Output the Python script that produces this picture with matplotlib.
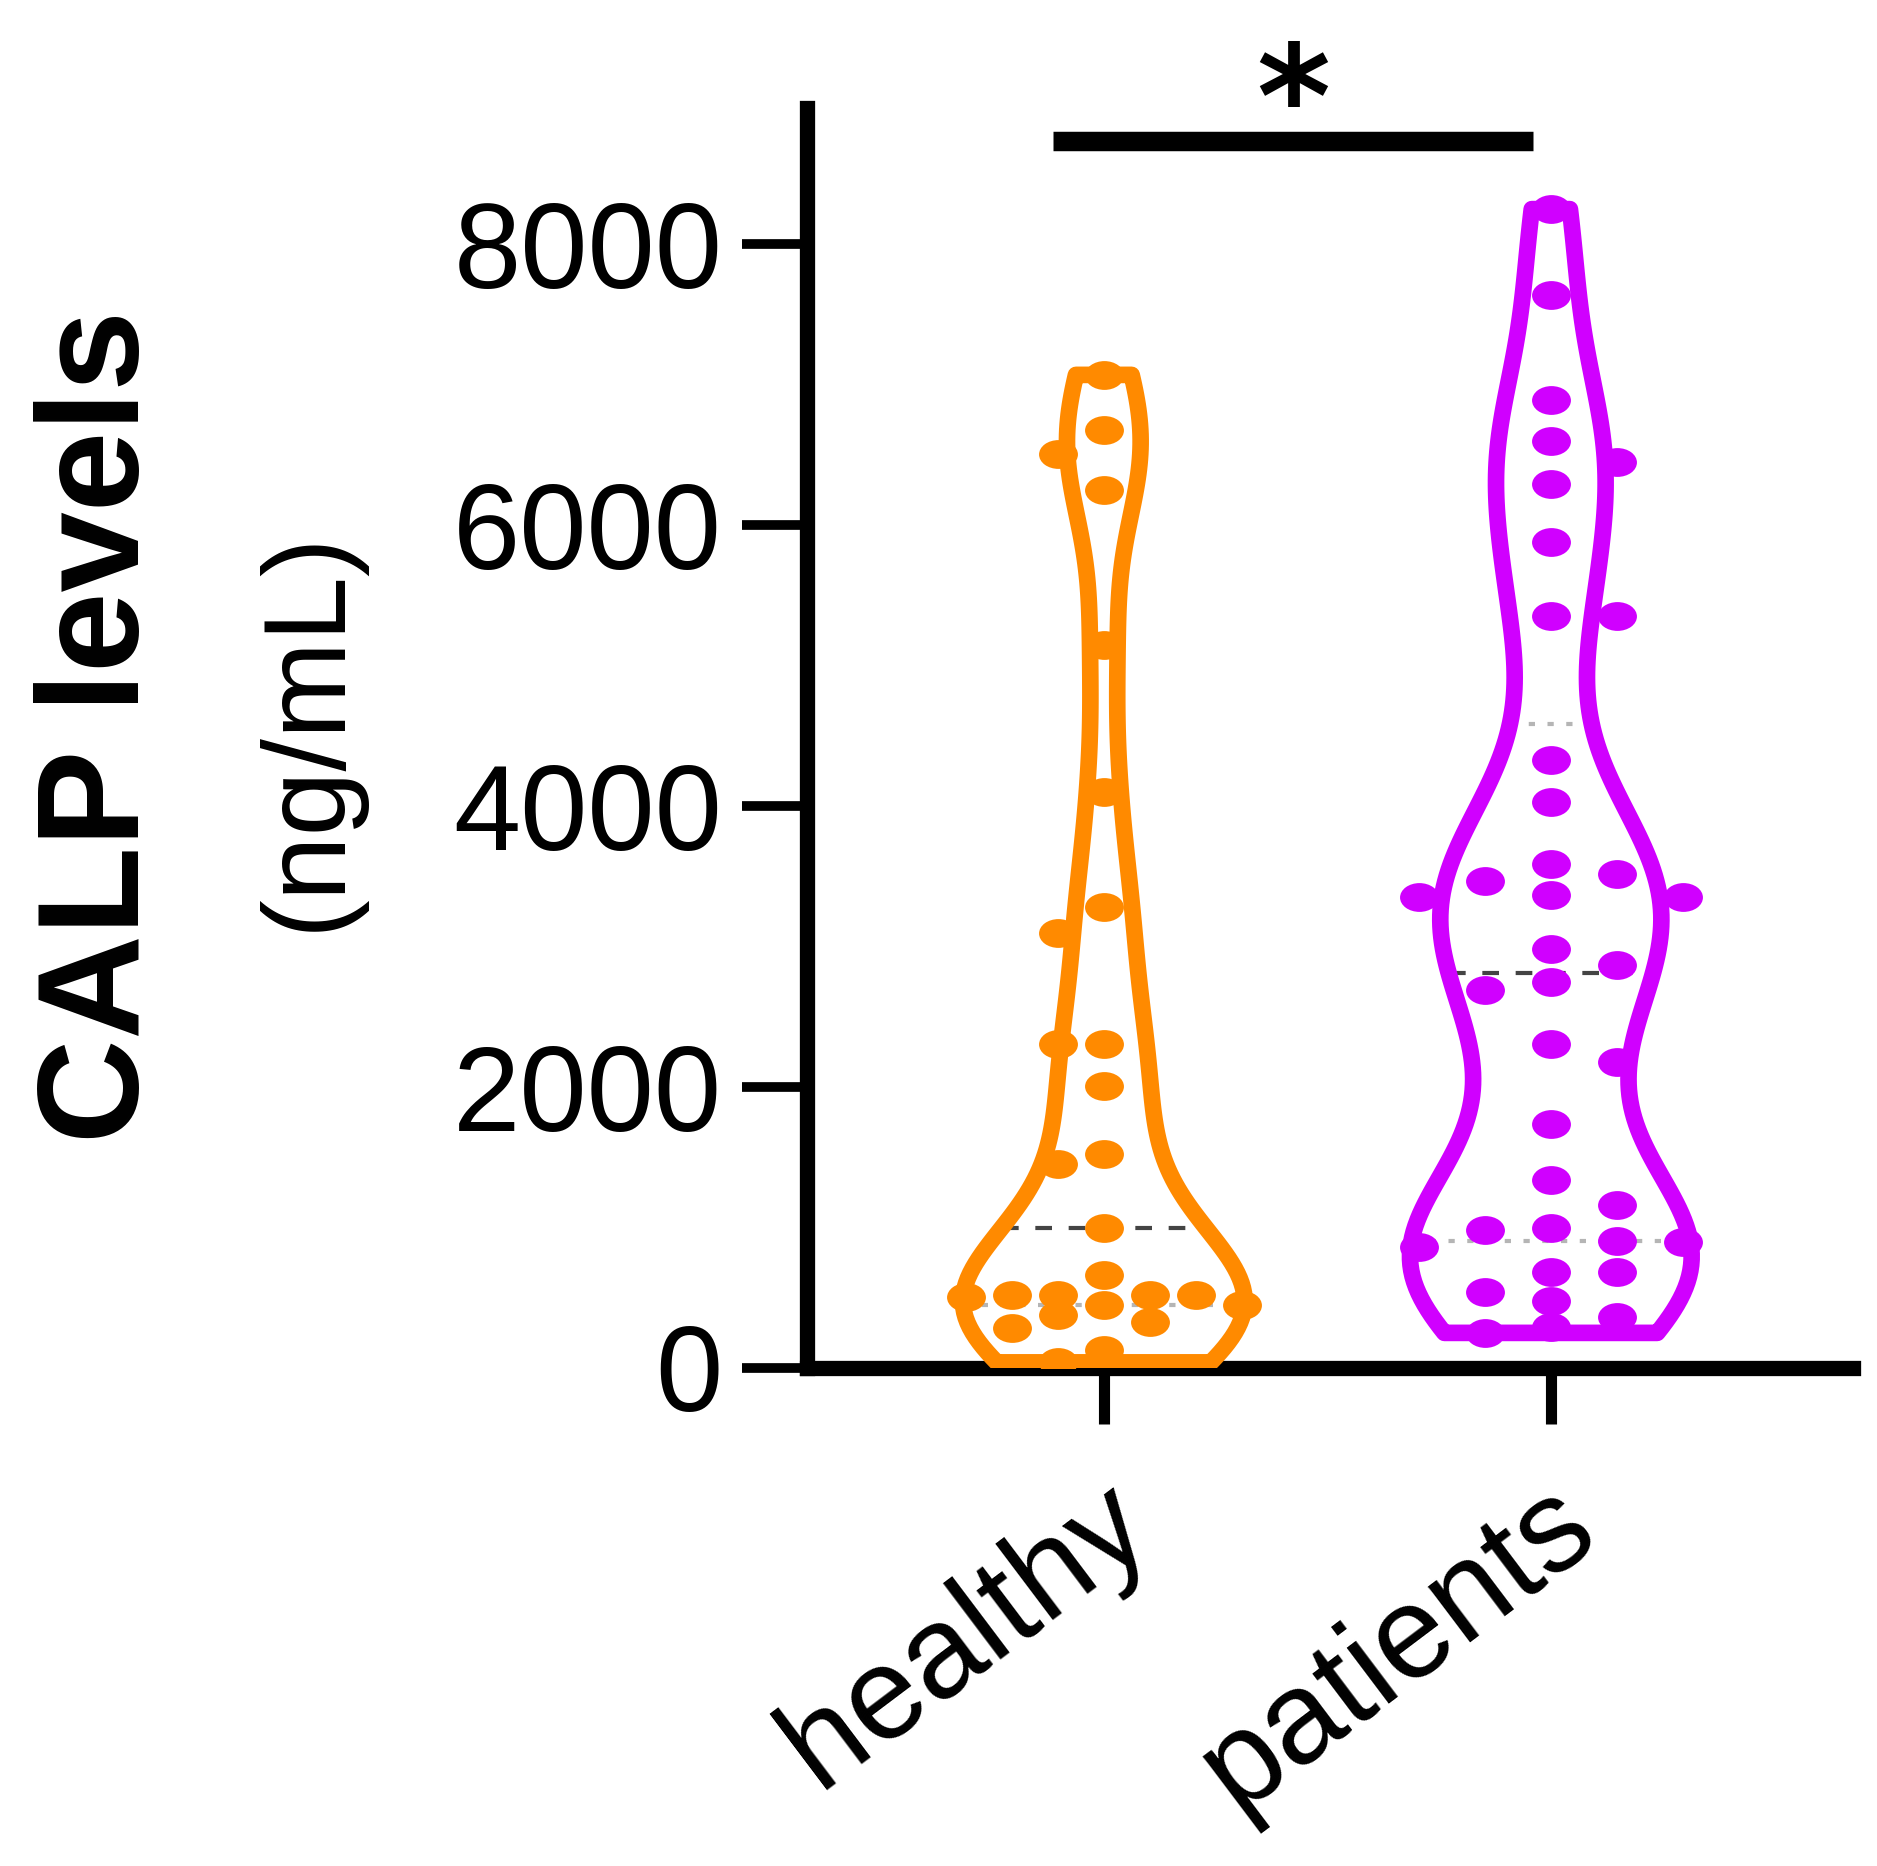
import numpy as np
import matplotlib
matplotlib.use("Agg")
import matplotlib.pyplot as plt
from matplotlib import mlab
from matplotlib.path import Path
from matplotlib.transforms import ScaledTranslation

plt.rcParams['font.family'] = ['Liberation Sans', 'DejaVu Sans']

# values (ng/mL)
groups = ['healthy', 'patients']
healthy = [7070, 6680, 6510, 6250, 5150, 4100, 3280, 3100, 2310, 2310, 2010,
           1520, 1450, 1000, 660, 520, 520, 520, 520, 505, 450, 450, 380, 330,
           285, 130, 40]
patients = [8250, 7640, 6890, 6600, 6450, 6290, 5880, 5350, 5350, 4330, 4030,
            3590, 3520, 3470, 3370, 3350, 3350, 2980, 2870, 2750, 2690, 2310,
            2180, 1740, 1340, 1160, 1000, 980, 905, 900, 860, 680, 680, 540,
            480, 360, 290, 250]
colors = ['#FF8A00', '#D000FF']
yticks = [0, 2000, 4000, 6000, 8000]

data = [np.array(healthy, float), np.array(patients, float)]
positions = [0, 1]
width = 0.63


def bw_factor(vals, c=0.26):
    # kernel width from min(std, IQR/1.34), as a factor of the std
    sd = vals.std(ddof=1)
    q1, q3 = np.percentile(vals, [25, 75])
    return c * min(sd, (q3 - q1) / 1.34) / sd


def swarm(values, step, dy_min, max_slot, side):
    # simple beeswarm: each point goes to the first column slot with room,
    # otherwise to the slot where it overlaps least
    cand = [0] + [s for k in range(1, max_slot + 1) for s in (side * k, -side * k)]
    placed = []
    out = np.zeros(len(values))
    for i in np.argsort(values)[::-1]:
        v = values[i]
        gaps = []
        for c in cand:
            d = [abs(v - pv) for pv, ps in placed if ps == c]
            gaps.append(min(d) if d else np.inf)
        ok = [c for c, g in zip(cand, gaps) if g >= dy_min]
        c = ok[0] if ok else cand[int(np.argmax(gaps))]
        placed.append((v, c))
        out[i] = c * step
    return out


fig = plt.figure(figsize=(18.77, 18.66), dpi=100)
ax = fig.add_axes([807 / 1877, 1 - 1368 / 1866, (1853 - 807) / 1877, (1368 - 108) / 1866])
ax.set_xlim(-0.664, 1.676)
ax.set_ylim(0, 8970)

for vals, pos, col in zip(data, positions, colors):
    bw = bw_factor(vals)
    vp = ax.violinplot([vals], positions=[pos], widths=width, showextrema=False,
                       points=200, bw_method=bw)
    body = vp['bodies'][0]
    body.set_facecolor('none')
    body.set_edgecolor(col)
    body.set_linewidth(12)
    body.set_alpha(1)
    body.set_zorder(3)

    # median / quartile lines, as wide as the violin at that level
    kde = mlab.GaussianKDE(vals, bw)
    grid = np.linspace(vals.min(), vals.max(), 200)
    dmax = kde.evaluate(grid).max()
    q1, med, q3 = np.percentile(vals, [25, 50, 75], method='weibull')
    for q, style, lc in [(q1, (0, (1.5, 3)), '#b5b5b5'),
                         (q3, (0, (1.5, 3)), '#b5b5b5'),
                         (med, (0, (4, 4)), '#444444')]:
        hw = 0.5 * width * kde.evaluate([q])[0] / dmax
        ax.plot([pos - hw, pos + hw], [q, q], color=lc, lw=3, ls=style, zorder=2)

# points
circ = Path.unit_circle()
ellipse = Path(circ.vertices * [1.35, 1.0], circ.codes)
steps = [0.103, 0.148]
slots = [3, 2]
sides = [-1, 1]
for vals, pos, col, st, ms, sd in zip(data, positions, colors, steps, slots, sides):
    xo = swarm(vals, st, 190, ms, sd)
    ax.plot(pos + xo, vals, ls='none', marker=ellipse, ms=28, color=col,
            mec='none', zorder=4)

# axes styling
for s in ['top', 'right']:
    ax.spines[s].set_visible(False)
for s in ['left', 'bottom']:
    ax.spines[s].set_linewidth(11)
ax.set_yticks(yticks)
ax.set_yticklabels([str(t) for t in yticks])
ax.tick_params(axis='y', length=47, width=7, pad=14, labelsize=87)
ax.set_xticks(positions)
ax.set_xticklabels(groups, rotation=37, ha='right', va='center',
                   rotation_mode='anchor')
ax.tick_params(axis='x', length=40, width=8, pad=62, labelsize=94)
for lab in ax.get_xticklabels():
    lab.set_transform(lab.get_transform() + ScaledTranslation(0.3, 0, fig.dpi_scale_trans))

# significance bar
bar_x = [-0.114, 0.96]
ax.plot(bar_x, [8733, 8733], color='black', lw=14, solid_capstyle='butt', clip_on=False)
ax.text(np.mean(bar_x), 8690, '*', ha='center', va='baseline', fontsize=102,
        family='DejaVu Sans', fontweight='bold', clip_on=False)

# y label (two lines)
fig.text(102 / 1877, 1 - 727 / 1866, 'CALP levels', rotation=90, fontsize=104,
         fontweight='bold', ha='center', va='center')
fig.text(308 / 1877, 1 - 730 / 1866, '(ng/mL)', rotation=90, fontsize=84,
         ha='center', va='center')

fig.savefig('out.png', dpi=100, facecolor='white')
